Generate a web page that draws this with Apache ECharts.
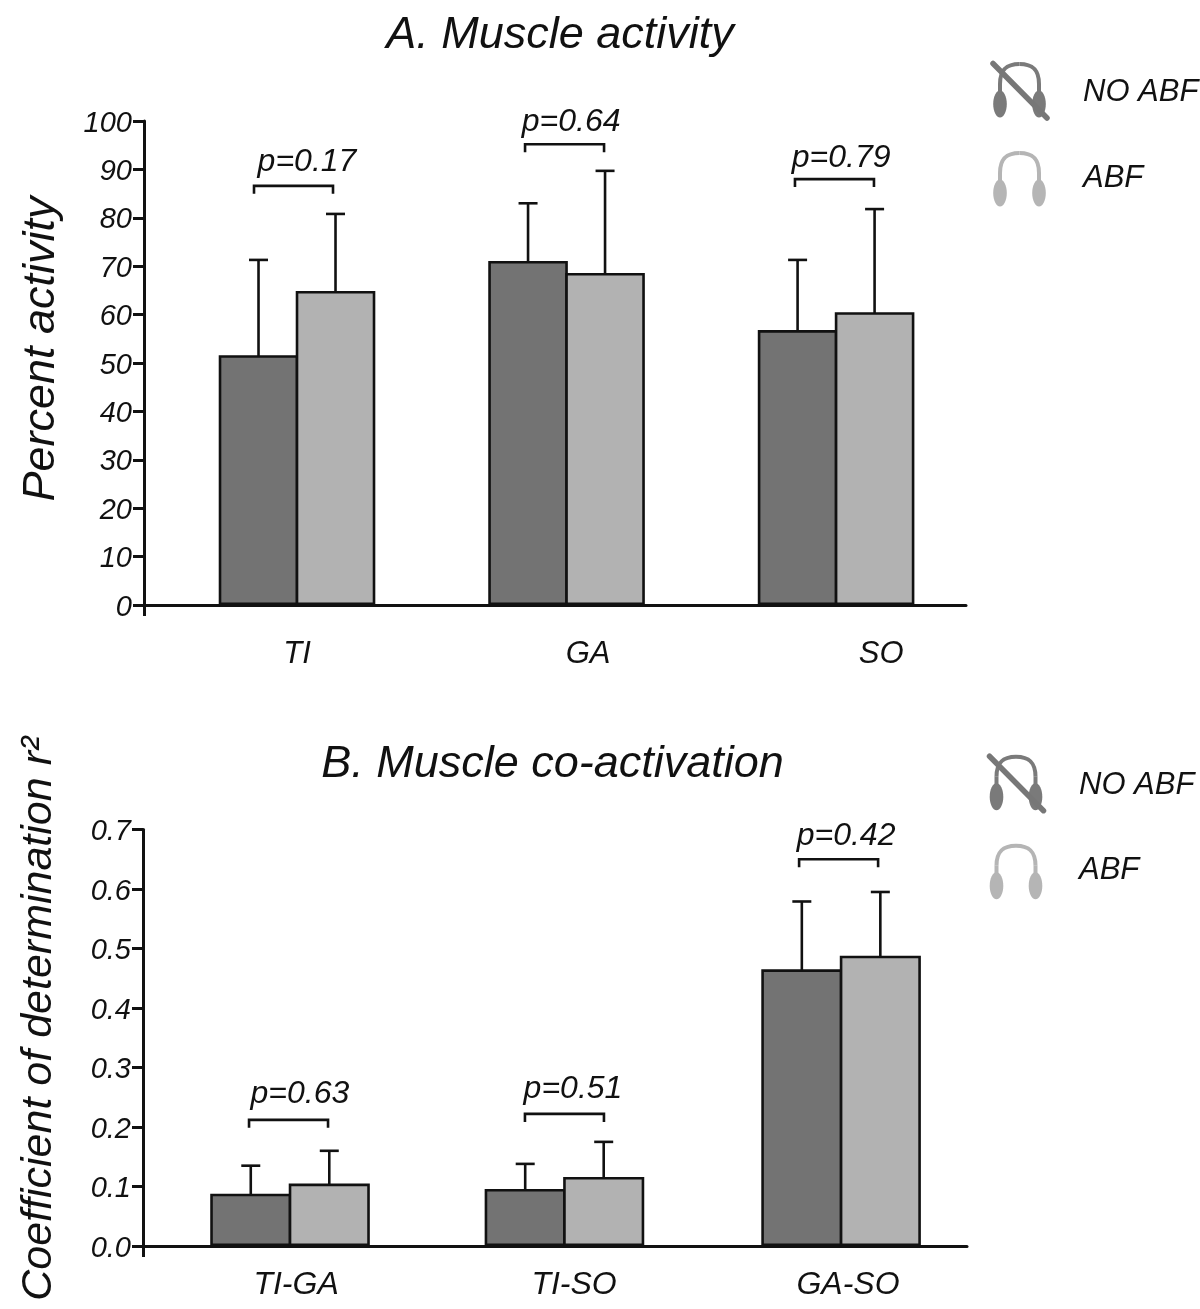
<!DOCTYPE html>
<html><head><meta charset="utf-8">
<style>html,body{margin:0;padding:0;background:#fff}#c{width:1200px;height:1309px}</style>
<script src="https://cdn.jsdelivr.net/npm/echarts@6/dist/echarts.min.js"></script>
</head><body><div id="c"></div>
<script>
// Panel A data
const catsA = ['TI','GA','SO'];
const barPosA = [0,1,2];
const noAbfA = [51.6,71.1,56.8];
const abfA = [64.9,68.6,60.5];
const noAbfErrA = [71.3,83.0,71.3];
const abfErrA = [80.8,89.7,81.8];
const catPosA = [0,1.08,2.167];
const bracketPosA = [-0.013,0.9926,1.994];
const bracketValA = [86.6,95.2,88.0];
const pTextA = ['p=0.17','p=0.64','p=0.79'];
const pPosA = [0.037,1.017,2.019];
const pValA = [91.5,99.8,92.4];
// Panel B data
const catsB = ['TI-GA','TI-SO','GA-SO'];
const barPosB = [0,0.996,2];
const noAbfB = [0.088,0.096,0.465];
const abfB = [0.105,0.116,0.488];
const noAbfErrB = [0.135,0.138,0.579];
const abfErrB = [0.160,0.175,0.595];
const catPosB = [0.022,1.031,2.025];
const bracketPosB = [-0.0054,0.996,1.991];
const bracketValB = [0.212,0.222,0.650];
const pTextB = ['p=0.63','p=0.51','p=0.42'];
const pPosB = [0.036,1.027,2.018];
const pValB = [0.255,0.264,0.689];

const FONT = '"Liberation Sans", Arial, sans-serif';
const INK = '#111';
const DARK = '#737373', LIGHT = '#b2b2b2';
const LW = 2.6;

function xAxis(idx, min, max, pos, cats){
  return {gridIndex:idx,type:'value',min:min,max:max,splitLine:{show:false},
    axisLine:{show:true,onZero:false,lineStyle:{color:INK,width:3}},
    axisTick:{show:true,length:11,customValues:[min],lineStyle:{color:INK,width:3}},
    axisLabel:{show:true,customValues:pos,margin:idx===0?34:23,fontFamily:FONT,fontStyle:'italic',fontSize:idx===0?31:32,color:INK,
      formatter:v=>{let b=0;pos.forEach((p,i)=>{if(Math.abs(p-v)<Math.abs(pos[b]-v))b=i;});return cats[b];}}};
}
function yAxis(idx,max,interval,dec,name,gap,pad,nameSize){
  return {gridIndex:idx,type:'value',min:0,max:max,interval:interval,splitLine:{show:false},
    name:name,nameLocation:'middle',nameGap:gap,nameRotate:90,
    nameTextStyle:{fontFamily:FONT,fontStyle:'italic',fontSize:nameSize,color:INK,padding:pad},
    axisLine:{show:true,onZero:false,lineStyle:{color:INK,width:3}},
    axisTick:{show:true,length:11,lineStyle:{color:INK,width:3}},
    axisLabel:{margin:12,fontFamily:FONT,fontStyle:'italic',fontSize:29,color:INK,
      rich:{t:{fontFamily:FONT,fontStyle:'italic',fontSize:29,color:INK,padding:[5,0,0,0]}},
      formatter:v=>'{t|'+v.toFixed(dec)+'}'}};
}
function bars(name,idx,pos,vals,color,w){
  return {type:'bar',name:name,xAxisIndex:idx,yAxisIndex:idx,barWidth:w+LW,barGap:(-LW/(w+LW)*100)+'%',
    data:vals.map((v,i)=>[pos[i],v]),
    itemStyle:{color:color,borderColor:INK,borderWidth:LW}};
}
function errors(idx,pos,tops,side,w){
  return {type:'custom',xAxisIndex:idx,yAxisIndex:idx,clip:false,silent:true,z:1,
    data:tops.map((v,i)=>[pos[i],v]),
    encode:{x:0,y:1},
    renderItem:(p,api)=>{
      const t=api.coord([api.value(0),api.value(1)]);
      const b=api.coord([api.value(0),0]);
      const x=t[0]+side*w/2, cap=9.5;
      return {type:'group',children:[
        {type:'line',shape:{x1:x,y1:t[1],x2:x,y2:b[1]},style:{stroke:INK,lineWidth:LW}},
        {type:'line',shape:{x1:x-cap,y1:t[1],x2:x+cap,y2:t[1]},style:{stroke:INK,lineWidth:LW}}
      ]};
    }};
}
function brackets(idx,pos,vals){
  return {type:'custom',xAxisIndex:idx,yAxisIndex:idx,clip:false,silent:true,
    data:pos.map((x,i)=>[x,vals[i]]),encode:{x:0,y:1},
    renderItem:(p,api)=>{
      const c=api.coord([api.value(0),api.value(1)]),h=39.5,d=8;
      return {type:'polyline',shape:{points:[[c[0]-h,c[1]+d],[c[0]-h,c[1]],[c[0]+h,c[1]],[c[0]+h,c[1]+d]]},
        style:{stroke:INK,lineWidth:LW,fill:null}};
    }};
}
function pLabels(idx,pos,vals,texts){
  return {type:'custom',xAxisIndex:idx,yAxisIndex:idx,clip:false,silent:true,
    data:pos.map((x,i)=>[x,vals[i],texts[i]]),encode:{x:0,y:1},
    renderItem:(p,api)=>{
      const c=api.coord([api.value(0),api.value(1)]);
      return {type:'text',x:c[0],y:c[1],style:{text:texts[p.dataIndex],fontFamily:FONT,fontStyle:'italic',fontSize:32,fill:INK,align:'center',verticalAlign:'middle'}};
    }};
}
function icon(dx,dy,color,slash){
  const g=[];
  const ear=(cx)=>({type:'ellipse',shape:{cx:cx+dx,cy:(slash?104:193)+dy,rx:6.8,ry:13.5},style:{fill:color},silent:true});
  const top=(slash?64:153)+dy, bot=(slash?95:184)+dy, L=1000+dx, R=1039+dx, M=1019.5+dx, s=top+20;
  const st={stroke:color,lineWidth:4,fill:null};
  g.push({type:'line',shape:{x1:L,y1:bot,x2:L,y2:s},style:st,silent:true});
  g.push({type:'line',shape:{x1:R,y1:bot,x2:R,y2:s},style:st,silent:true});
  g.push({type:'bezierCurve',shape:{x1:L,y1:s,cpx1:L,cpy1:top+4,cpx2:L+8,cpy2:top,x2:M,y2:top},style:st,silent:true});
  g.push({type:'bezierCurve',shape:{x1:M,y1:top,cpx1:R-8,cpy1:top,cpx2:R,cpy2:top+4,x2:R,y2:s},style:st,silent:true});
  g.push(ear(1000),ear(1039));
  if(slash)g.push({type:'line',shape:{x1:993+dx,y1:63.5+dy,x2:1047+dx,y2:118+dy},style:{stroke:'#777',lineWidth:5.5,lineCap:'round'},silent:true});
  return g;
}
function legText(x,y,t){
  return {type:'text',x:x,y:y,silent:true,style:{text:t,fontFamily:FONT,fontStyle:'italic',fontSize:31,fill:INK,align:'left',verticalAlign:'middle'}};
}

const chart=echarts.init(document.getElementById('c'),null,{renderer:'canvas'});
chart.setOption({
  animation:false,
  backgroundColor:'#fff',
  title:[
    {text:'A. Muscle activity',left:555,top:8,textAlign:'center',textStyle:{fontFamily:FONT,fontStyle:'italic',fontWeight:'normal',fontSize:45,color:INK}},
    {text:'B. Muscle co-activation',left:547.5,top:737,textAlign:'center',textStyle:{fontFamily:FONT,fontStyle:'italic',fontWeight:'normal',fontSize:45,color:INK}}
  ],
  grid:[
    {left:144,top:121,width:822,height:484,outerBoundsMode:'none'},
    {left:143,top:829.5,width:824,height:416.5,outerBoundsMode:'none'}
  ],
  xAxis:[xAxis(0,-0.5677,2.482,catPosA,catsA),xAxis(1,-0.5336,2.457,catPosB,catsB)],
  yAxis:[yAxis(0,100,10,0,'Percent activity',80,[0,0,0,28],45),
         yAxis(1,0.7,0.1,1,'Coefficient of determination r²',82,[0,0,0,38],43)],
  series:[
    errors(0,barPosA,noAbfErrA,-1,77),errors(0,barPosA,abfErrA,1,77),
    bars('NO ABF',0,barPosA,noAbfA,DARK,77),bars('ABF',0,barPosA,abfA,LIGHT,77),
    brackets(0,bracketPosA,bracketValA),pLabels(0,pPosA,pValA,pTextA),
    errors(1,barPosB,noAbfErrB,-1,78.5),errors(1,barPosB,abfErrB,1,78.5),
    bars('NO ABF',1,barPosB,noAbfB,DARK,78.5),bars('ABF',1,barPosB,abfB,LIGHT,78.5),
    brackets(1,bracketPosB,bracketValB),pLabels(1,pPosB,pValB,pTextB)
  ],
  graphic:[
    ...icon(0,0,'#7a7a7a',true),...icon(0,0,'#b5b5b5',false),
    ...icon(-3.5,692.7,'#7a7a7a',true),...icon(-3.5,692.7,'#b5b5b5',false),
    legText(1083,92,'NO ABF'),legText(1083,178,'ABF'),
    legText(1079,785,'NO ABF'),legText(1079,870,'ABF')
  ]
});
</script></body></html>
